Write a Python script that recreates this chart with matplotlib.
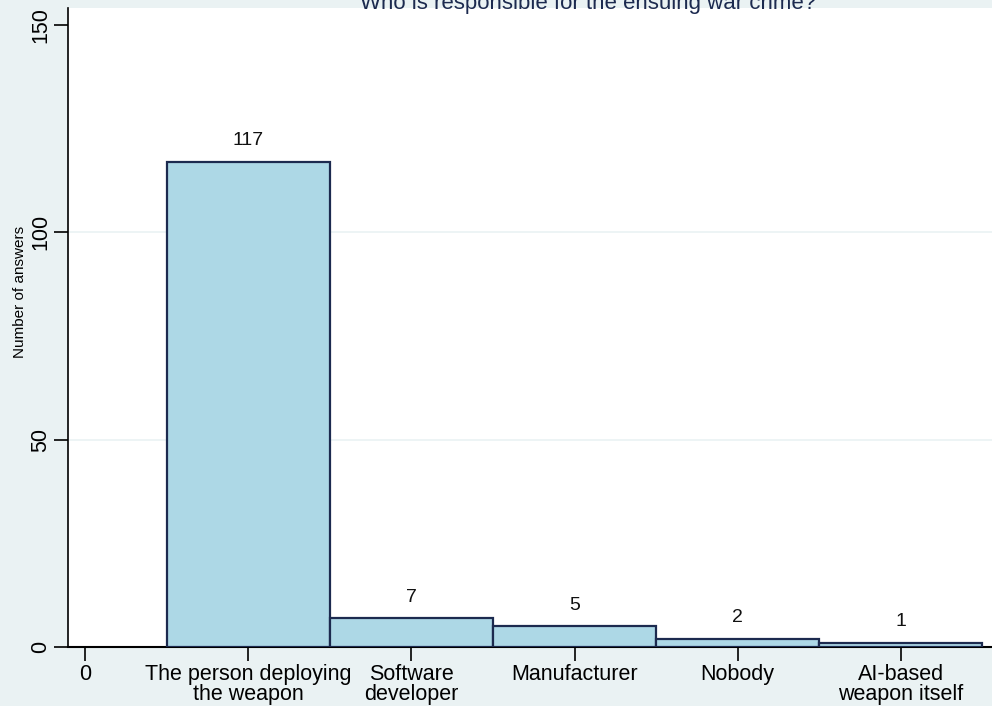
import matplotlib.pyplot as plt

plt.rcParams['font.family'] = ['Liberation Sans', 'DejaVu Sans']

# data
categories = ['The person deploying\nthe weapon', 'Software\ndeveloper', 'Manufacturer',
              'Nobody', 'AI-based\nweapon itself']
answers = [117, 7, 5, 2, 1]
yticks = [0, 50, 100, 150]
title = 'Who is responsible for the ensuing war crime?'

bg = '#EAF2F3'
fill = '#ADD8E6'
edge = '#1C2A4F'

fig = plt.figure(figsize=(9.92, 7.06), dpi=100, facecolor=bg)
ax = fig.add_axes([68 / 992, 59 / 706, 1 - 68 / 992, (647 - 8) / 706])
ax.set_facecolor('white')

pos = list(range(1, len(categories) + 1))
ax.bar(pos, answers, width=1.0, color=fill, edgecolor=edge, linewidth=1.6, zorder=3)
for x, v in zip(pos, answers):
    ax.text(x, v + 3, str(v), ha='center', va='bottom', fontsize=14, color='#111111')

ax.set_xlim(-17 / 163, 5 + 91 / 163)
ax.set_ylim(0, 150 + 17 / 4.147)
ax.set_xticks([0] + pos)
ax.set_xticklabels(['0'] + categories, fontsize=15.5, linespacing=0.95)
ax.set_yticks(yticks)
ax.set_yticklabels([str(t) for t in yticks], rotation=90, va='center', fontsize=15.5)
ax.tick_params(axis='both', length=10, width=1.2, color='black', pad=2)

for y in [50, 100]:
    ax.axhline(y, color=bg, linewidth=1.2, zorder=1)

for s in ['top', 'right']:
    ax.spines[s].set_visible(False)
ax.spines['left'].set_linewidth(1.2)
ax.spines['bottom'].set_linewidth(1.5)

fig.text(20 / 992, 1 - 292 / 706, 'Number of answers', rotation=90, ha='center', va='center',
         fontsize=11, color='black')
fig.text(588 / 992, 1 - 9 / 706, title, ha='center', va='baseline', fontsize=16, color='#1C2A4F')

fig.savefig('out.png', dpi=100, facecolor=bg)
